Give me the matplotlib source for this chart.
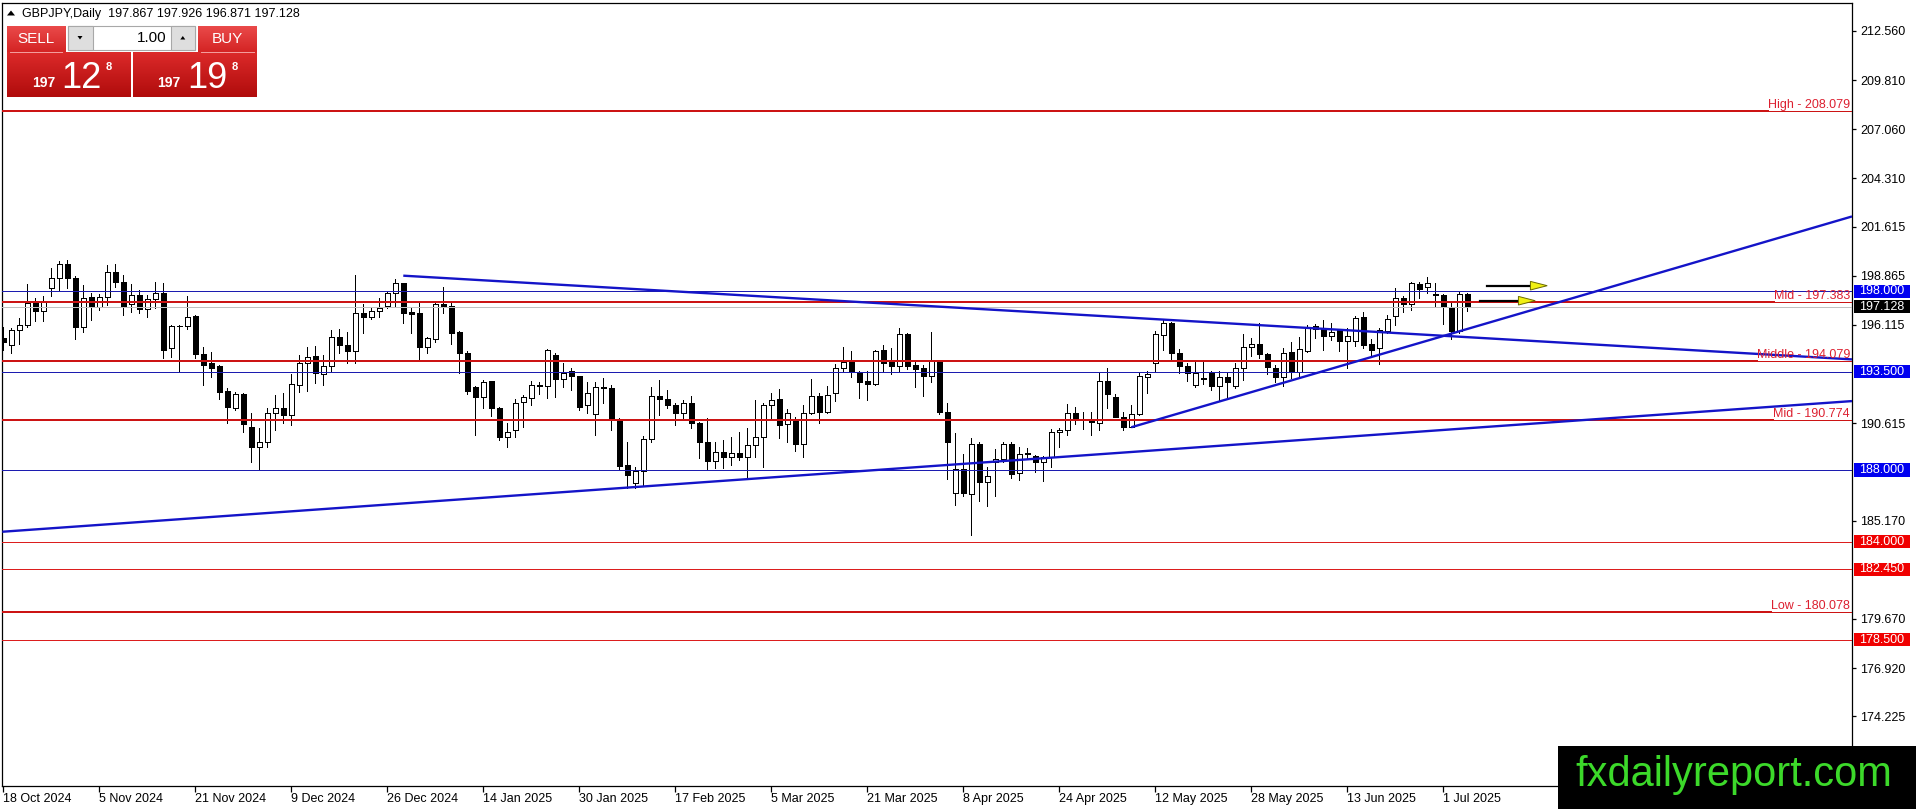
import numpy as np
import matplotlib
matplotlib.use("Agg")
import matplotlib.pyplot as plt
from matplotlib.patches import Rectangle, Polygon
from matplotlib.transforms import blended_transform_factory, offset_copy
from matplotlib.colors import LinearSegmentedColormap

plt.rcParams['font.family'] = ['Liberation Sans', 'DejaVu Sans']

# GBPJPY daily candles, one per bar (18 Oct 2024 .. 4 Jul 2025)
opens = [
    195.37, 195.00, 195.84, 196.10, 197.33, 196.92, 198.20, 198.73, 199.53, 198.73,
    196.02, 197.66, 197.09, 197.66, 199.10, 198.54, 197.27, 197.79, 197.03, 197.55,
    197.92, 194.81, 196.08, 196.06, 196.62, 194.49, 194.01, 193.82, 192.43, 191.49,
    192.26, 190.39, 189.28, 189.55, 191.21, 191.45, 191.05, 192.76, 193.97, 194.35,
    193.36, 193.82, 195.43, 194.98, 194.63, 196.77, 196.55, 196.92, 197.18, 197.89,
    198.45, 196.86, 196.77, 194.90, 195.33, 197.27, 197.18, 195.73, 194.53, 192.63,
    192.11, 192.99, 191.46, 189.87, 190.21, 191.83, 192.05, 192.76, 192.72, 194.44,
    193.08, 193.51, 193.26, 191.61, 191.12, 192.67, 192.58, 190.80, 188.27, 187.26,
    187.95, 189.72, 192.15, 191.96, 191.64, 191.18, 191.74, 190.62, 189.55, 188.53,
    188.99, 188.75, 188.94, 188.72, 189.41, 189.83, 191.61, 191.96, 190.56, 190.77,
    189.44, 191.21, 192.15, 191.27, 192.33, 193.69, 194.03, 193.47, 192.99, 192.80,
    194.72, 194.05, 193.79, 195.59, 193.88, 193.69, 193.28, 194.12, 191.27, 186.70,
    188.04, 186.65, 189.46, 187.32, 188.47, 188.60, 189.44, 187.82, 188.90, 188.81,
    188.44, 188.72, 190.11, 190.24, 191.18, 190.80, 190.77, 190.65, 192.97, 192.11,
    190.99, 190.43, 191.14, 193.23, 193.97, 195.56, 196.21, 194.53, 193.82, 192.74,
    193.12, 193.45, 192.72, 193.19, 192.72, 193.69, 194.87, 195.03, 194.49, 193.69,
    193.23, 194.59, 193.47, 194.68, 196.06, 195.87, 195.52, 195.84, 195.24, 195.24,
    196.55, 195.03, 194.81, 195.80, 196.64, 197.61, 197.27, 198.41, 198.22, 197.85,
    197.79, 197.10, 195.80, 197.867,
]
highs = [
    195.99, 195.93, 196.49, 198.41, 197.61, 197.74, 199.28, 199.71, 199.75, 198.86,
    198.35, 197.89, 197.83, 199.47, 199.53, 198.91, 198.41, 198.07, 197.79, 198.54,
    198.45, 196.12, 196.12, 197.74, 196.66, 194.90, 194.59, 193.88, 192.57, 192.39,
    192.30, 191.21, 190.34, 191.45, 192.20, 192.30, 193.38, 194.44, 194.87, 194.94,
    194.44, 195.84, 195.87, 195.74, 198.91, 197.27, 197.05, 197.61, 197.98, 198.67,
    198.48, 197.14, 197.48, 195.46, 197.42, 198.22, 197.48, 195.80, 194.68, 192.70,
    193.04, 192.99, 191.51, 190.62, 191.96, 192.20, 193.00, 192.95, 194.76, 194.57,
    193.97, 193.69, 193.26, 192.95, 192.95, 193.17, 192.76, 190.90, 189.59, 188.19,
    189.91, 192.67, 193.04, 192.48, 191.74, 191.92, 192.15, 190.71, 190.90, 189.59,
    189.69, 189.87, 190.10, 190.34, 191.92, 191.74, 192.30, 192.52, 191.40, 190.99,
    191.64, 193.08, 192.30, 192.72, 193.93, 194.87, 194.66, 193.56, 193.54, 194.72,
    194.99, 194.81, 195.93, 195.65, 194.07, 193.88, 195.74, 194.16, 191.74, 190.06,
    188.90, 189.78, 189.54, 188.16, 189.16, 189.59, 189.59, 189.28, 189.22, 188.85,
    188.79, 190.28, 190.34, 191.70, 191.55, 191.27, 191.27, 193.45, 193.69, 192.26,
    191.27, 191.64, 193.45, 193.51, 195.80, 196.40, 196.30, 194.75, 194.01, 194.07,
    194.07, 193.56, 193.51, 193.45, 194.01, 195.59, 195.37, 196.25, 194.57, 193.88,
    194.81, 195.18, 195.43, 196.12, 196.17, 196.40, 196.21, 195.87, 195.93, 196.62,
    196.86, 195.31, 195.93, 196.68, 198.17, 197.74, 198.54, 198.54, 198.78, 198.45,
    197.85, 197.48, 198.04, 197.926,
]
lows = [
    194.72, 194.53, 195.03, 195.99, 196.36, 196.36, 197.74, 198.02, 198.17, 195.31,
    195.74, 196.40, 196.95, 197.23, 198.22, 196.68, 196.86, 196.81, 196.58, 197.05,
    194.25, 194.31, 193.47, 195.87, 194.25, 192.76, 193.23, 191.98, 190.62, 191.33,
    190.10, 188.42, 188.01, 189.31, 190.24, 190.65, 190.52, 192.39, 192.44, 192.89,
    192.76, 193.56, 194.53, 194.01, 194.01, 195.69, 196.43, 196.55, 197.05, 197.18,
    196.25, 195.69, 194.16, 194.57, 195.18, 196.81, 195.05, 193.41, 192.26, 189.96,
    191.46, 191.03, 189.69, 189.28, 189.83, 190.43, 191.64, 192.26, 192.01, 192.11,
    192.67, 192.48, 191.33, 191.18, 189.96, 191.74, 190.21, 188.01, 186.98, 186.98,
    187.17, 189.54, 191.08, 191.46, 190.52, 190.80, 190.34, 188.66, 188.04, 188.10,
    188.10, 188.29, 188.57, 187.60, 188.75, 188.19, 190.80, 189.78, 189.59, 189.09,
    188.75, 191.14, 190.65, 191.18, 191.88, 193.51, 193.19, 192.01, 191.92, 192.76,
    193.54, 193.38, 193.51, 193.65, 192.67, 192.16, 192.95, 191.12, 187.49, 186.05,
    186.52, 184.37, 186.29, 185.99, 186.52, 188.47, 187.54, 187.45, 188.60, 187.91,
    187.41, 188.19, 189.28, 189.96, 190.58, 190.30, 189.93, 190.24, 191.46, 190.95,
    190.24, 190.39, 191.08, 192.30, 193.56, 194.72, 194.16, 193.41, 193.00, 192.67,
    192.82, 192.48, 191.87, 192.01, 192.61, 193.04, 194.35, 194.25, 193.38, 192.95,
    192.70, 193.13, 193.23, 194.62, 195.37, 194.72, 195.28, 194.63, 193.69, 194.94,
    194.81, 194.35, 193.93, 195.69, 196.12, 196.86, 196.95, 197.61, 197.92, 197.14,
    196.17, 195.33, 195.69, 196.871,
]
closes = [
    195.18, 195.84, 196.10, 197.33, 196.92, 197.38, 198.73, 199.53, 198.73, 196.02,
    197.61, 197.09, 197.66, 199.10, 198.54, 197.14, 197.79, 197.03, 197.55, 197.92,
    194.72, 196.06, 196.04, 196.58, 194.49, 193.88, 193.73, 192.39, 191.55, 192.26,
    190.58, 189.26, 189.55, 191.21, 191.45, 191.08, 192.80, 194.01, 194.31, 193.41,
    193.82, 195.43, 194.98, 194.63, 196.77, 196.55, 196.92, 197.05, 197.89, 198.45,
    196.81, 196.73, 194.90, 195.37, 197.27, 197.14, 195.69, 194.53, 192.44, 192.11,
    192.95, 191.46, 189.87, 190.10, 191.77, 192.11, 192.76, 192.72, 194.72, 193.08,
    193.45, 193.26, 191.55, 192.30, 192.67, 192.56, 190.80, 188.23, 187.71, 187.97,
    189.72, 192.15, 191.96, 191.64, 191.21, 191.74, 190.62, 189.54, 188.53, 189.00,
    188.75, 188.94, 188.70, 189.41, 189.83, 191.64, 191.92, 190.52, 191.21, 189.46,
    191.21, 192.15, 191.27, 192.20, 193.69, 194.03, 193.47, 192.95, 192.80, 194.66,
    194.01, 193.79, 195.59, 193.82, 193.67, 193.28, 194.12, 191.27, 189.55, 188.04,
    186.70, 189.44, 187.32, 187.69, 188.60, 189.44, 187.77, 188.88, 188.97, 188.44,
    188.72, 190.11, 190.24, 191.18, 190.80, 190.77, 190.71, 192.97, 192.26, 190.99,
    190.39, 191.14, 193.26, 193.38, 195.59, 196.21, 194.57, 193.79, 193.41, 193.45,
    193.10, 192.72, 193.19, 192.95, 193.69, 194.87, 195.03, 194.48, 193.75, 193.23,
    194.57, 193.47, 194.76, 195.93, 195.87, 195.52, 195.74, 195.24, 195.52, 196.49,
    195.00, 194.72, 195.84, 196.45, 197.61, 197.27, 198.45, 198.13, 198.45, 197.78,
    197.09, 195.80, 197.83, 197.128,
]

date_labels = [
    "18 Oct 2024", "5 Nov 2024", "21 Nov 2024", "9 Dec 2024", "26 Dec 2024",
    "14 Jan 2025", "30 Jan 2025", "17 Feb 2025", "5 Mar 2025", "21 Mar 2025",
    "8 Apr 2025", "24 Apr 2025", "12 May 2025", "28 May 2025", "13 Jun 2025",
    "1 Jul 2025",
]
bars_per_label = 12

price_ticks = [212.560, 209.810, 207.060, 204.310, 201.615, 198.865, 196.115,
               190.615, 185.170, 179.670, 176.920, 174.225]

# range levels (thick red with text)
fib_names = ["High", "Mid", "Middle", "Mid", "Low"]
fib_levels = [208.079, 197.383, 194.079, 190.774, 180.078]
# plain horizontal levels
blue_levels = [198.000, 193.500, 188.000]
red_levels = [184.000, 182.450, 178.500]
bid_price = 197.128

# trend lines: (bar, price) anchors
trend_long = [(0, 184.55), (230, 191.82)]
trend_down = [(50, 198.87), (231, 194.19)]
trend_up = [(141, 190.39), (231, 202.17)]

# arrows: start bar, head bar, tip bar, price
arrows = [(185.5, 190.9, 193.0, 198.31), (184.6, 189.4, 191.5, 197.47)]

header = "GBPJPY,Daily  197.867 197.926 196.871 197.128"

W, H = 1916, 809
fig = plt.figure(figsize=(W / 100, H / 100), dpi=100)
fig.patch.set_facecolor("white")
ax = fig.add_axes([2.3 / W, 1 - 785.7 / H, (1852 - 2.3) / W, (785.7 - 2.7) / H])
x0, x1 = -0.125, 231.1
ax.set_xlim(x0, x1)
ax.set_ylim(170.34, 214.14)
for s in ax.spines.values():
    s.set_color("black")
    s.set_linewidth(0.9)

px = 0.72  # one pixel in points

# candles
body_w = 0.6
for i in range(len(opens)):
    o, h, l, c = opens[i], highs[i], lows[i], closes[i]
    ax.plot([i, i], [l, h], color="black", lw=px, zorder=2,
            solid_capstyle="butt", antialiased=False)
    lo, hi = min(o, c), max(o, c)
    ax.add_patch(Rectangle((i - body_w / 2, lo), body_w, max(hi - lo, 0.03),
                           fc="white" if c >= o else "black", ec="black",
                           lw=px, zorder=3, antialiased=False))

# horizontal levels
blue_thin = "#1c1cb0"
red_thin = "#dc1e1e"
for lv in blue_levels:
    ax.axhline(lv, color=blue_thin, lw=px, zorder=4, antialiased=False)
for lv in red_levels:
    ax.axhline(lv, color=red_thin, lw=px, zorder=4, antialiased=False)
ax.axhline(bid_price, color="#c0c0c0", lw=px, zorder=4, antialiased=False)

# fib-like levels with labels
red_thick = "#cc1414"
trans_b = blended_transform_factory(ax.transAxes, ax.transData)
txt_trans = offset_copy(trans_b, fig=fig, x=-2, y=3, units="dots")
fib_texts = []
for name, lv in zip(fib_names, fib_levels):
    t = ax.text(1.0, lv, f"{name} - {lv:.3f}", transform=txt_trans,
                ha="right", va="baseline", color="#dc2030", fontsize=9, zorder=6)
    fib_texts.append(t)
fig.canvas.draw()
for t, lv in zip(fib_texts, fib_levels):
    bb = t.get_window_extent()
    xs = ax.transData.inverted().transform((bb.x0, 0))[0]
    ax.plot([x0, xs], [lv, lv], color=red_thick, lw=2 * px, zorder=5, antialiased=False)
    ax.plot([xs, x1], [lv, lv], color=red_thick, lw=px, zorder=5, antialiased=False)

# trend lines
trend_col = "#1414c8"
def trend(p0, p1, xa, xb):
    k = (p1[1] - p0[1]) / (p1[0] - p0[0])
    return [xa, xb], [p0[1] + k * (xa - p0[0]), p0[1] + k * (xb - p0[0])]

for pts, start in [(trend_long, x0), (trend_down, trend_down[0][0]), (trend_up, trend_up[0][0])]:
    xs, ys = trend(pts[0], pts[1], start, x1)
    ax.plot(xs, ys, color=trend_col, lw=1.7, zorder=5, solid_capstyle="butt")

# arrows
half_h = 4.3 * 0.05594
for xa, xh, xt, p in arrows:
    ax.plot([xa, xh], [p, p], color="black", lw=1.6, zorder=6)
    ax.add_patch(Polygon([(xh, p - half_h), (xh, p + half_h), (xt, p)],
                         closed=True, fc="#f0f014", ec="#6a6a00", lw=0.7, zorder=7))

# axis ticks
ax.yaxis.tick_right()
ax.set_yticks(price_ticks)
ax.set_yticklabels([f"{v:.3f}" for v in price_ticks])
ax.tick_params(axis="y", direction="out", length=3, width=0.9, pad=3, labelsize=9)
ax.set_xticks(range(0, bars_per_label * len(date_labels), bars_per_label))
ax.set_xticklabels(date_labels)
ax.tick_params(axis="x", direction="out", length=4, width=0.9, pad=1, labelsize=9)
for lbl in ax.get_xticklabels():
    lbl.set_horizontalalignment("left")

# price boxes on the right scale
box_h = 13.3 * 0.05594
bx = (1854 - 2.3) / 1849.7
bw = 56 / 1849.7
tx = (1859 - 2.3) / 1849.7
boxes = [(v, "#0000f0") for v in blue_levels] + [(v, "#f00000") for v in red_levels] + [(bid_price, "black")]
for v, col in boxes:
    ax.add_patch(Rectangle((bx, v - box_h / 2), bw, box_h, transform=trans_b,
                           fc=col, ec="none", clip_on=False, zorder=8))
    ax.text(tx, v, f"{v:.3f}", transform=trans_b, color="white", fontsize=9,
            ha="left", va="center", clip_on=False, zorder=9)

# header and trade panel (figure pixel coordinates from top-left)
def fx(x):
    return x / W

def fy(y):
    return 1 - y / H

fig.add_artist(Polygon([(fx(7), fy(15.5)), (fx(15), fy(15.5)), (fx(11), fy(10.5))],
                       closed=True, fc="black", ec="none", transform=fig.transFigure, zorder=10))
fig.text(fx(21.7), fy(17.3), header, fontsize=9, color="black", va="baseline", zorder=10)

panel_cmap = LinearSegmentedColormap.from_list("pb", ["#dc2a2a", "#b00c0c"])
top_cmap = LinearSegmentedColormap.from_list("pt", ["#ea4a4a", "#d42424"])
grad = np.linspace(0, 1, 64).reshape(-1, 1)
def red_box(xa, xb, ya, yb, cmap):
    bax = fig.add_axes([fx(xa), fy(yb), fx(xb - xa), (yb - ya) / H], zorder=10)
    bax.imshow(grad, aspect="auto", cmap=cmap)
    bax.axis("off")

red_box(6.7, 65, 26, 51.7, top_cmap)
red_box(198.3, 256.7, 26, 51.7, top_cmap)
red_box(6.7, 130.7, 52.3, 96.7, panel_cmap)
red_box(133.3, 256.7, 52.3, 96.7, panel_cmap)

fig.text(fx(35.8), fy(39), "SELL", color="white", fontsize=11, ha="center", va="center", zorder=12)
fig.text(fx(227.5), fy(39), "BUY", color="white", fontsize=11, ha="center", va="center", zorder=12)
for xa, line_end in [(10, 62), (201, 254)]:
    fig.add_artist(plt.Line2D([fx(xa), fx(line_end)], [fy(51.8), fy(51.8)],
                              color="#f4a0a0", lw=0.7, transform=fig.transFigure, zorder=12))

# lot spinner
fig.add_artist(Rectangle((fx(68.3), fy(50)), fx(195 - 68.3), 24 / H, transform=fig.transFigure,
                         fc="white", ec="#a8a8a8", lw=0.8, zorder=11))
for xa, xb in [(68.3, 92.7), (170.7, 195)]:
    fig.add_artist(Rectangle((fx(xa), fy(50)), fx(xb - xa), 24 / H, transform=fig.transFigure,
                             fc="#dedede", ec="#a8a8a8", lw=0.8, zorder=11))
fig.add_artist(Polygon([(fx(77.5), fy(36)), (fx(82.5), fy(36)), (fx(80), fy(39.5))],
                       closed=True, fc="black", ec="none", transform=fig.transFigure, zorder=12))
fig.add_artist(Polygon([(fx(180.3), fy(39.5)), (fx(185.3), fy(39.5)), (fx(182.8), fy(36))],
                       closed=True, fc="black", ec="none", transform=fig.transFigure, zorder=12))
fig.text(fx(166), fy(38), "1.00", color="black", fontsize=11, ha="right", va="center", zorder=12)

# quotes
for big_x, small_x, sup_x, big in [(62.7, 31.7, 106, "12"), (188, 156.7, 231.7, "19")]:
    fig.text(fx(small_x), fy(87.3), "197", color="white", fontsize=10, fontweight="bold",
             va="baseline", zorder=12)
    fig.text(fx(big_x - 1), fy(88.3), big, color="white", fontsize=26, va="baseline", zorder=12)
    fig.text(fx(sup_x), fy(62.5), "8", color="white", fontsize=8, fontweight="bold",
             va="top", zorder=12)

# watermark
fig.add_artist(Rectangle((fx(1557.7), 0), fx(W - 1557.7), (809 - 745.7) / H,
                         transform=fig.transFigure, fc="black", ec="none", zorder=20))
fig.text(fx(1575), fy(786.3), "fxdailyreport.com", color="#3cd92a", fontsize=30,
         va="baseline", ha="left", zorder=21)

fig.savefig("out.png", dpi=100)
